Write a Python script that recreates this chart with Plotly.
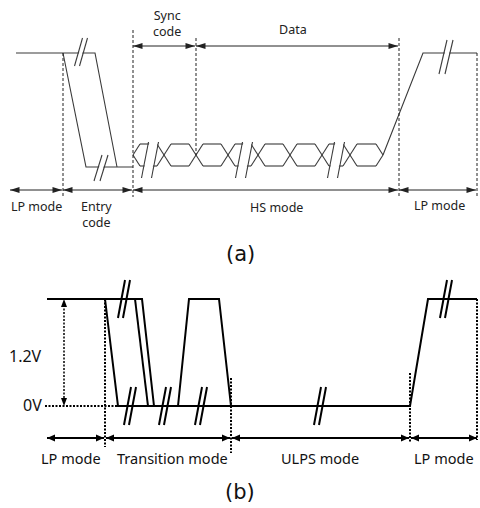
import plotly.graph_objects as go

W, H = 480, 508

# ---------------- panel (a): HS transmission ----------------
A_EYE_TOP, A_EYE_BOT, A_EYE_MID = 144, 166, 155
A_EYE_CROSS = [133, 164, 196, 228, 258, 290, 322, 350, 383]
A_EYE_HALF = 7

A_WAVE_X = [[16, 95, 117], [63, 86, 133], [383, 423, 477]]
A_WAVE_Y = [[53, 53, 167], [53, 167, 167], [155, 53, 53]]

A_BREAK_CX = [81, 101, 150, 244, 336, 446]
A_BREAK_CY = [52, 168, 160, 160, 160, 57]
A_BREAK_HH = [14, 13, 18, 18, 18, 17]
A_BREAK_SL = [8, 8, 7, 7, 7, 8]
A_BREAK_SEP = [5, 6, 10, 10, 10, 6]

A_DASH_X = [63, 133, 196, 399, 477]
A_DASH_Y0 = [53, 30, 38, 38, 53]
A_DASH_Y1 = [197, 197, 155, 197, 197]

A_ARROW_START = [10, 63, 133, 399, 133, 196]
A_ARROW_END = [62, 132, 398, 476, 195, 398]
A_ARROW_Y = [190, 190, 190, 190, 46, 46]

A_LABELS = ["LP mode", "Entry<br>code", "HS mode", "LP mode", "Sync<br>code", "Data"]
A_LABEL_X = [36, 96, 276, 439, 167, 293]
A_LABEL_Y = [206, 214, 207, 205, 23, 29]

# ---------------- panel (b): ULPS ----------------
B_WAVE_X = [[47, 142, 154], [105, 118, 410, 428, 477], [135, 148], [178, 189, 219, 231]]
B_WAVE_Y = [[299, 299, 406], [299, 406, 406, 299, 299], [299, 406], [406, 299, 299, 406]]

B_BREAK_CX = [124, 130, 165, 201, 320, 446]
B_BREAK_CY = [299, 406, 406, 406, 406, 299]
B_BREAK_HH = [19, 19, 19, 19, 19, 19]
B_BREAK_SL = [7, 7, 7, 7, 7, 7]
B_BREAK_SEP = [5, 5, 5, 5, 5, 5]

B_DOT_X0 = [105, 231, 410, 477, 45]
B_DOT_X1 = [105, 231, 410, 477, 118]
B_DOT_Y0 = [299, 378, 373, 299, 406]
B_DOT_Y1 = [447, 453, 443, 440, 406]

B_VMEAS_X = 64
B_VMEAS_Y = [299, 406]

B_ARROW_START = [47, 106, 232, 411]
B_ARROW_END = [104, 230, 409, 477]
B_ARROW_Y = [438, 438, 438, 438]

B_LABELS = ["1.2V", "0V", "LP mode", "Transition mode", "ULPS mode", "LP mode"]
B_LABEL_X = [25, 32, 71, 172, 320, 444]
B_LABEL_Y = [356, 405, 458, 458, 458, 458]
B_LABEL_SIZE = [16, 16, 14.5, 14.5, 14.5, 14.5]

CAPTIONS = ["(a)", "(b)"]
CAPTION_X = [240, 240]
CAPTION_Y = [254, 492]


def join(xs_list, ys_list):
    X, Y = [], []
    for xs, ys in zip(xs_list, ys_list):
        X += list(xs) + [None]
        Y += list(ys) + [None]
    return X, Y


def line_trace(xs_list, ys_list, color, width, dash="solid", fill=None, fillcolor=None):
    X, Y = join(xs_list, ys_list)
    kw = dict(x=X, y=Y, mode="lines", hoverinfo="skip", showlegend=False,
              line=dict(color=color, width=width, dash=dash))
    if fill:
        kw.update(fill=fill, fillcolor=fillcolor, line=dict(width=0, color=fillcolor))
    return go.Scatter(**kw)


def eye(cross, h, top, bot, mid):
    xs, ys = [], []
    for a, b in zip(cross[:-1], cross[1:]):
        xs += [[a + h, b - h], [a + h, b - h]]
        ys += [[top, top], [bot, bot]]
    for c in cross[1:-1]:
        xs += [[c - h, c + h], [c - h, c + h]]
        ys += [[top, bot], [bot, top]]
    c0, cn = cross[0], cross[-1]
    xs += [[c0, c0 + h], [c0, c0 + h], [cn - h, cn], [cn - h, cn]]
    ys += [[mid, top], [mid, bot], [top, mid], [bot, mid]]
    return xs, ys


def breaks(cx, cy, hh, sl, sep):
    slx, sly, px, py = [], [], [], []
    for x, y, h, s, d in zip(cx, cy, hh, sl, sep):
        pts = []
        for off in (-d / 2, d / 2):
            xb, xt = x - s / 2 + off, x + s / 2 + off
            slx.append([xb, xt])
            sly.append([y + h, y - h])
            pts.append((xb, xt))
        (b1, t1), (b2, t2) = pts
        px.append([b1 + 0.8, t1 + 0.8, t2 - 0.8, b2 - 0.8, b1 + 0.8])
        py.append([y + h - 1, y - h + 1, y - h + 1, y + h - 1, y + h - 1])
    return slx, sly, px, py


def arrowheads(starts, ends, ys, L, w):
    xs, yv = [], []
    for a, b, y in zip(starts, ends, ys):
        xs.append([a, a + L, a + L, a]); yv.append([y, y - w, y + w, y])
        xs.append([b, b - L, b - L, b]); yv.append([y, y - w, y + w, y])
    return xs, yv


fig = go.Figure()

# panel (a) waveform
AC = "#3a3a3a"
ex, ey = eye(A_EYE_CROSS, A_EYE_HALF, A_EYE_TOP, A_EYE_BOT, A_EYE_MID)
fig.add_trace(line_trace(A_WAVE_X + ex, A_WAVE_Y + ey, AC, 1.1))
slx, sly, px, py = breaks(A_BREAK_CX, A_BREAK_CY, A_BREAK_HH, A_BREAK_SL, A_BREAK_SEP)
fig.add_trace(line_trace(px, py, "white", 0, fill="toself", fillcolor="white"))
fig.add_trace(line_trace(slx, sly, AC, 1.1))
fig.add_trace(line_trace([[x, x] for x in A_DASH_X],
                         [[a, b] for a, b in zip(A_DASH_Y0, A_DASH_Y1)],
                         "#222", 1, dash="3px,2px"))
fig.add_trace(line_trace([[a, b] for a, b in zip(A_ARROW_START, A_ARROW_END)],
                         [[y, y] for y in A_ARROW_Y], "#222", 1))
hx, hy = arrowheads(A_ARROW_START, A_ARROW_END, A_ARROW_Y, 9.5, 3)
fig.add_trace(line_trace(hx, hy, "#222", 0, fill="toself", fillcolor="#222"))

# panel (b) waveform
BC = "#000000"
fig.add_trace(line_trace(B_WAVE_X, B_WAVE_Y, BC, 2))
slx, sly, px, py = breaks(B_BREAK_CX, B_BREAK_CY, B_BREAK_HH, B_BREAK_SL, B_BREAK_SEP)
fig.add_trace(line_trace(slx, sly, BC, 2))
fig.add_trace(line_trace([[a, b] for a, b in zip(B_DOT_X0, B_DOT_X1)],
                         [[a, b] for a, b in zip(B_DOT_Y0, B_DOT_Y1)],
                         BC, 2, dash="2px,1.5px"))
fig.add_trace(line_trace([[B_VMEAS_X, B_VMEAS_X]], [[B_VMEAS_Y[0] + 6, B_VMEAS_Y[1] - 6]],
                         BC, 1.5, dash="2px,1.5px"))
vx = [[B_VMEAS_X, B_VMEAS_X - 3, B_VMEAS_X + 3, B_VMEAS_X],
      [B_VMEAS_X, B_VMEAS_X - 3, B_VMEAS_X + 3, B_VMEAS_X]]
vy = [[B_VMEAS_Y[0], B_VMEAS_Y[0] + 8, B_VMEAS_Y[0] + 8, B_VMEAS_Y[0]],
      [B_VMEAS_Y[1], B_VMEAS_Y[1] - 8, B_VMEAS_Y[1] - 8, B_VMEAS_Y[1]]]
fig.add_trace(line_trace(vx, vy, BC, 0, fill="toself", fillcolor=BC))
fig.add_trace(line_trace([[a, b] for a, b in zip(B_ARROW_START, B_ARROW_END)],
                         [[y, y] for y in B_ARROW_Y], BC, 2))
hx, hy = arrowheads(B_ARROW_START, B_ARROW_END, B_ARROW_Y, 8, 3.5)
fig.add_trace(line_trace(hx, hy, BC, 0, fill="toself", fillcolor=BC))

annots = []
for t, x, y in zip(A_LABELS, A_LABEL_X, A_LABEL_Y):
    annots.append(dict(text=t, x=x, y=y, xref="x", yref="y", showarrow=False,
                       font=dict(family="Noto Sans", size=12.5, color="#222")))
for t, x, y, s in zip(B_LABELS, B_LABEL_X, B_LABEL_Y, B_LABEL_SIZE):
    annots.append(dict(text=t, x=x, y=y, xref="x", yref="y", showarrow=False,
                       font=dict(family="Noto Sans", size=s, color="#111")))
for t, x, y in zip(CAPTIONS, CAPTION_X, CAPTION_Y):
    annots.append(dict(text=t, x=x, y=y, xref="x", yref="y", showarrow=False,
                       font=dict(family="DejaVu Sans", size=21, color="#111")))

fig.update_layout(
    width=W, height=H, margin=dict(l=0, r=0, t=0, b=0),
    paper_bgcolor="white", plot_bgcolor="white", showlegend=False,
    xaxis=dict(range=[0, W], visible=False, fixedrange=True),
    yaxis=dict(range=[H, 0], visible=False, fixedrange=True),
    annotations=annots,
)
fig.write_html(
    "out.html",
    config={"displayModeBar": False},
    post_script="document.body.style.margin='0';document.body.style.overflow='hidden';"
                "document.documentElement.style.overflow='hidden';",
)
